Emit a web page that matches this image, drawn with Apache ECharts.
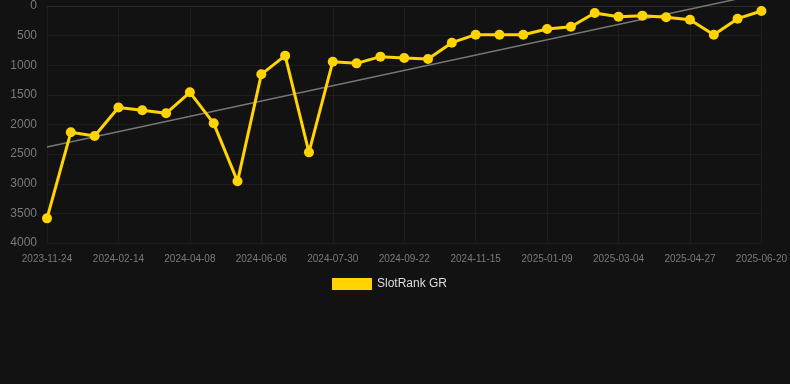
<!DOCTYPE html>
<html><head><meta charset="utf-8">
<script src="https://cdn.jsdelivr.net/npm/echarts@6/dist/echarts.min.js"></script>
<style>html,body{margin:0;padding:0;background:#121212}#c{width:790px;height:384px}</style>
</head><body><div id="c"></div>
<script>
const dates = ["2023-11-24","2023-12-21","2024-01-17","2024-02-14","2024-03-03","2024-03-21","2024-04-08","2024-04-28","2024-05-17","2024-06-06","2024-06-24","2024-07-12","2024-07-30","2024-08-17","2024-09-04","2024-09-22","2024-10-10","2024-10-28","2024-11-15","2024-12-03","2024-12-21","2025-01-09","2025-01-27","2025-02-14","2025-03-04","2025-03-22","2025-04-09","2025-04-27","2025-05-15","2025-06-02","2025-06-20"];
const rankGR = [3584,2132,2194,1712,1761,1811,1457,1980,2959,1153,838,2470,940,968,855,878,895,619,484,484,484,388,349,118,180,163,191,231,484,214,84];
const trendStart = 2380;
const trendEnd = -206;
const seriesName = "SlotRank GR";

const chart = echarts.init(document.getElementById('c'));
chart.setOption({
  backgroundColor: '#121212',
  animation: false,
  grid: {left: 47, right: 28, top: 6, bottom: 141},
  legend: {
    data: [seriesName], top: 273, left: 327,
    itemWidth: 40, itemHeight: 12, icon: 'rect',
    textStyle: {color: '#dddddd', fontSize: 12, fontFamily: 'Liberation Sans, Arial, sans-serif'}
  },
  xAxis: {
    type: 'category', data: dates, boundaryGap: false,
    axisLine: {lineStyle: {color: '#2a2a2a'}},
    axisTick: {show: false},
    axisLabel: {interval: 2, margin: 11, color: '#7a7a7a', fontSize: 10, fontFamily: 'Liberation Sans, Arial, sans-serif'},
    splitLine: {show: true, interval: 2, lineStyle: {color: '#1d1d1d'}}
  },
  yAxis: {
    type: 'value', inverse: true, min: 0, max: 4000, interval: 500,
    axisLine: {show: false}, axisTick: {show: false},
    axisLabel: {color: '#7a7a7a', fontSize: 12, margin: 10, formatter: v => String(v), fontFamily: 'Liberation Sans, Arial, sans-serif'},
    splitLine: {lineStyle: {color: '#1d1d1d'}}
  },
  series: [
    {
      name: seriesName, type: 'line', data: rankGR,
      symbol: 'circle', symbolSize: 10, z: 3,
      itemStyle: {color: '#FFD400'},
      lineStyle: {color: '#FFD400', width: 3}
    },
    {
      name: 'trend', type: 'line', clip: false, symbol: 'none', z: 2,
      data: [[0, trendStart], [dates.length - 1, trendEnd]],
      lineStyle: {color: '#777', width: 1.5},
      silent: true
    }
  ]
});
</script></body></html>
